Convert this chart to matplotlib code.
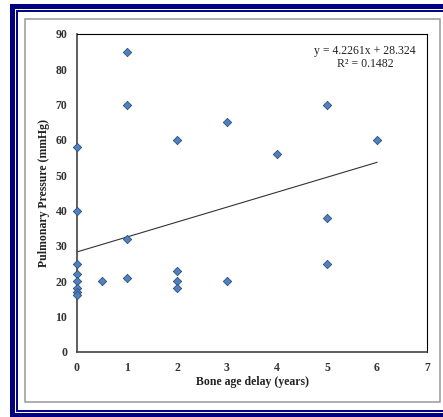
import numpy as np
import matplotlib
matplotlib.use("Agg")
import matplotlib.pyplot as plt
from matplotlib.lines import Line2D
from matplotlib.patches import Rectangle

# Datos
bone_delay = [0, 0, 0, 0, 0, 0, 0, 0, 0.5, 1, 1, 1, 1, 2, 2, 2, 2, 3, 3, 4, 5, 5, 5, 6]
pressure = [58, 40, 25, 22, 20, 18, 17, 16, 20, 85, 70, 32, 21, 60, 23, 20, 18, 65, 20, 56, 70, 38, 25, 60]
slope = 4.2261
intercept = 28.324
r2 = 0.1482
x_ticks = [0, 1, 2, 3, 4, 5, 6, 7]
y_ticks = [0, 10, 20, 30, 40, 50, 60, 70, 80, 90]

W, H = 443, 417
fig = plt.figure(figsize=(W / 100, H / 100), dpi=100)
fig.patch.set_facecolor("white")

def px_open_frame(x0, y0, y1, **kw):
    # marco abierto a la derecha, en píxeles (origen arriba a la izquierda)
    xs = [1.05, x0 / W, x0 / W, 1.05]
    ys = [1 - y0 / H, 1 - y0 / H, 1 - y1 / H, 1 - y1 / H]
    fig.lines.append(Line2D(xs, ys, transform=fig.transFigure,
                            solid_joinstyle="miter", **kw))

# Marcos
px_open_frame(12, 6, 414.5, color="#000080", linewidth=3.6)
px_open_frame(16.5, 10.5, 410.5, color="#000080", linewidth=1.4)
fig.patches.append(Rectangle((25 / W, 1 - 402 / H), 415 / W, 383 / H,
                             transform=fig.transFigure, fill=False,
                             edgecolor="#999999", linewidth=1.1))

ax = fig.add_axes([77 / W, 1 - 352 / H, 350 / W, 318 / H])

xs = np.array([0, 6])
ax.plot(xs, slope * xs + intercept, color="#333333", linewidth=0.8, zorder=2)
ax.scatter(bone_delay, pressure, marker="D", s=18, color="#4F81BD",
           edgecolors="#2F4F7F", linewidths=0.6, zorder=3, clip_on=False)

ax.set_xlim(0, 7)
ax.set_ylim(0, 90)
ax.set_xticks(x_ticks)
ax.set_yticks(y_ticks)
ax.tick_params(length=0, pad=7, labelsize=8.5, labelcolor="#333333")
for lab in ax.get_xticklabels() + ax.get_yticklabels():
    lab.set_fontfamily("Liberation Serif")
    lab.set_fontweight("bold")

for s in ["top", "right"]:
    ax.spines[s].set_color("black")
    ax.spines[s].set_linewidth(0.8)
for s in ["left", "bottom"]:
    ax.spines[s].set_color("#444444")
    ax.spines[s].set_linewidth(1.2)

ax.set_xlabel("Bone age delay (years)", fontfamily="Liberation Serif",
              fontweight="bold", fontsize=8.5, color="#222222", labelpad=2)
ax.set_ylabel("Pulmonary Pressure (mmHg)", fontfamily="Liberation Serif",
              fontweight="bold", fontsize=8.5, color="#222222", labelpad=4)

ax.text(0.823, 0.925, f"y = {slope}x + {intercept}\nR² = {r2}",
        transform=ax.transAxes, ha="center", va="center",
        fontfamily="Liberation Serif", fontsize=8.5, color="#222222",
        linespacing=1.1)

fig.savefig("out.png", dpi=100)
